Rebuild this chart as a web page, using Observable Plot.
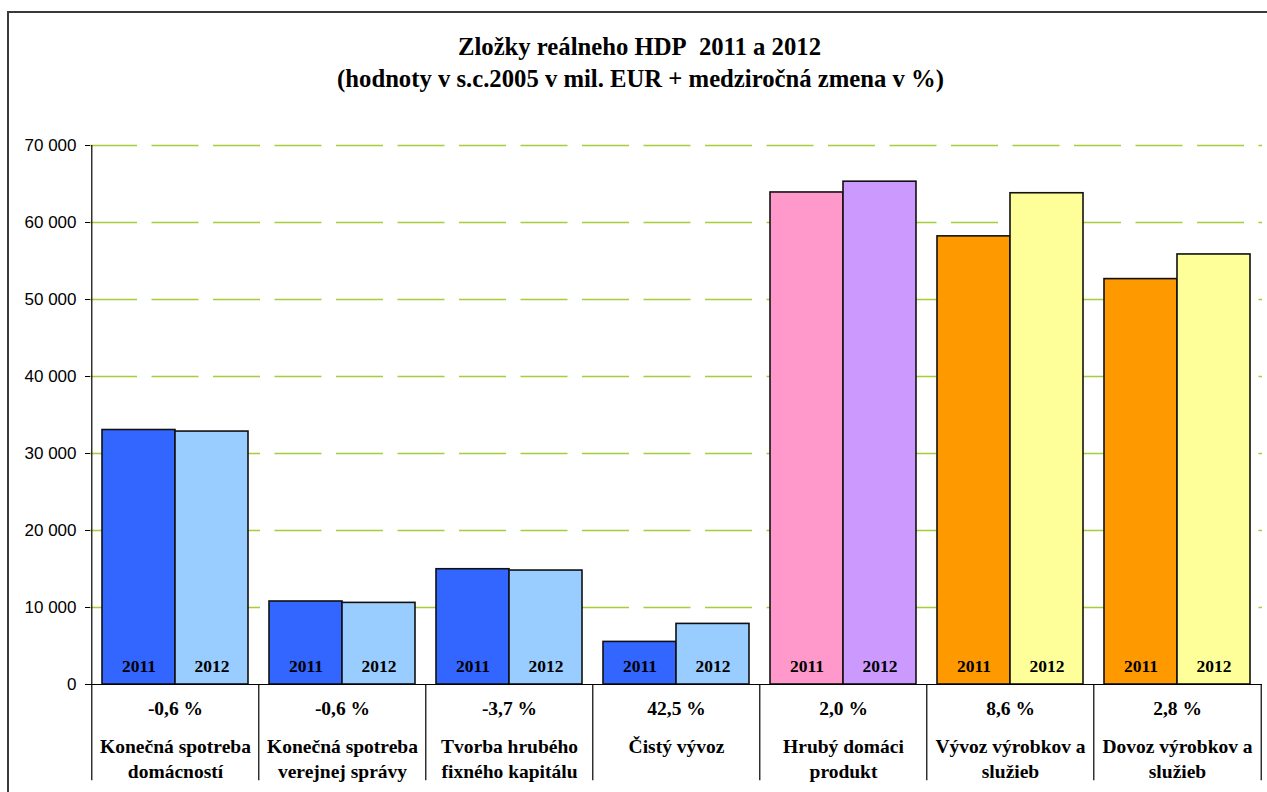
<!DOCTYPE html>
<html>
<head>
<meta charset="utf-8">
<script src="https://cdn.jsdelivr.net/npm/d3@7"></script>
<script src="https://cdn.jsdelivr.net/npm/@observablehq/plot@0.6"></script>
<style>
  html, body { margin: 0; padding: 0; background: #fff; width: 1267px; height: 792px; overflow: hidden; }
  #wrap { position: relative; width: 1267px; height: 792px; }
  #border { position: absolute; left: 7px; top: 11px; right: -10px; bottom: -10px; border-left: 2px solid #3a3a3a; border-top: 2px solid #3a3a3a; }
  #title { position: absolute; left: 0; top: 0; width: 1267px; height: 130px; font-family: 'Liberation Serif', 'DejaVu Serif', serif; font-weight: bold; font-size: 24.7px; color: #000; text-align: center; }
  #title .l1 { position: absolute; left: 12px; right: 0; top: 33px; }
  #title .l2 { position: absolute; left: 14px; right: 0; top: 65px; }
  #chart { position: absolute; left: 0; top: 130px; }
</style>
</head>
<body>
<div id="wrap">
  <div id="border"></div>
  <div id="title"><div class="l1">Zložky reálneho HDP&nbsp; 2011 a 2012</div><div class="l2">(hodnoty v s.c.2005 v mil. EUR + medziročná zmena v %)</div></div>
  <div id="chart"></div>
</div>
<script>
// ---- data ----
const categories = [
  "Konečná spotreba\ndomácností",
  "Konečná spotreba\nverejnej správy",
  "Tvorba hrubého\nfixného kapitálu",
  "Čistý vývoz",
  "Hrubý domáci\nprodukt",
  "Vývoz výrobkov a\nslužieb",
  "Dovoz výrobkov a\nslužieb"
];
const changes = ["-0,6 %", "-0,6 %", "-3,7 %", "42,5 %", "2,0 %", "8,6 %", "2,8 %"];
const values2011 = [33050, 10780, 14970, 5530, 63900, 58200, 52650];
const values2012 = [32850, 10600, 14800, 7870, 65300, 63800, 55850];
const colors2011 = ["#3366FF", "#3366FF", "#3366FF", "#3366FF", "#FF99CC", "#FF9900", "#FF9900"];
const colors2012 = ["#99CCFF", "#99CCFF", "#99CCFF", "#99CCFF", "#CC99FF", "#FFFF99", "#FFFF99"];
const years = ["2011", "2012"];
const yTicks = [0, 10000, 20000, 30000, 40000, 50000, 60000, 70000];

const rows = categories.map((c, i) => ({
  cat: c, change: changes[i],
  v2011: values2011[i], v2012: values2012[i],
  c2011: colors2011[i], c2012: colors2012[i]
}));

// ---- layout ----
const W = 1267, H = 662;
const mL = 90, mR = 5, mT = 15, mB = 108;
const pad = 0.128;
const step = (W - mL - mR) / categories.length;
const half = step * (1 - pad) / 2;

const fmt = d => d3.format(",")(d).replace(/,/g, " ");
const serif = "'Liberation Serif', 'DejaVu Serif', serif";

const plot = Plot.plot({
  width: W, height: H,
  marginLeft: mL, marginRight: mR, marginTop: mT, marginBottom: mB,
  style: { background: "transparent", fontFamily: "'Liberation Sans', Arial, sans-serif", color: "#000", overflow: "visible" },
  x: { type: "band", domain: categories, paddingInner: pad, paddingOuter: pad / 2, axis: null },
  y: { domain: [0, 70000], axis: null },
  color: { type: "identity" },
  marks: [
    Plot.gridY(yTicks.filter(d => d > 0), { stroke: "#a4cf3a", strokeOpacity: 1, strokeWidth: 1.3, strokeDasharray: "47,14.5" }),
    Plot.axisY({ ticks: yTicks, tickFormat: fmt, tickSize: 5, tickPadding: 9, fontSize: 17, anchor: "left" }),
    Plot.barY(rows, { x: "cat", y: "v2011", fill: "c2011", insetRight: half, stroke: "#111", strokeWidth: 1.6 }),
    Plot.barY(rows, { x: "cat", y: "v2012", fill: "c2012", insetLeft: half, stroke: "#111", strokeWidth: 1.6 }),
    Plot.text(rows, { x: "cat", y: 0, text: () => years[0], dx: -half / 2, dy: -18.5, fontFamily: serif, fontWeight: "bold", fontSize: 17.5, fill: "#000" }),
    Plot.text(rows, { x: "cat", y: 0, text: () => years[1], dx: half / 2, dy: -18.5, fontFamily: serif, fontWeight: "bold", fontSize: 17.5, fill: "#000" }),
    Plot.ruleY([0], { stroke: "#000", strokeWidth: 1.2 }),
    Plot.ruleX(rows.slice(0, 1), { x: "cat", dx: -step / 2, stroke: "#000", strokeWidth: 1.2 }),
    Plot.ruleX(rows, { x: "cat", dx: -step / 2, y1: 0, y2: -12500, stroke: "#000", strokeWidth: 1.2 }),
    Plot.ruleX(rows.slice(-1), { x: "cat", dx: step / 2, y1: 0, y2: -12500, stroke: "#000", strokeWidth: 1.2 }),
    Plot.text(rows, { x: "cat", frameAnchor: "bottom", text: "change", dy: 30, fontFamily: serif, fontWeight: "bold", fontSize: 19.5, fill: "#000" }),
    Plot.text(rows, { x: "cat", frameAnchor: "bottom", text: "cat", lineAnchor: "top", dy: 51.5, lineHeight: 1.256, fontFamily: serif, fontWeight: "bold", fontSize: 19.5, fill: "#000" })
  ]
});
document.getElementById("chart").appendChild(plot);
</script>
</body>
</html>
